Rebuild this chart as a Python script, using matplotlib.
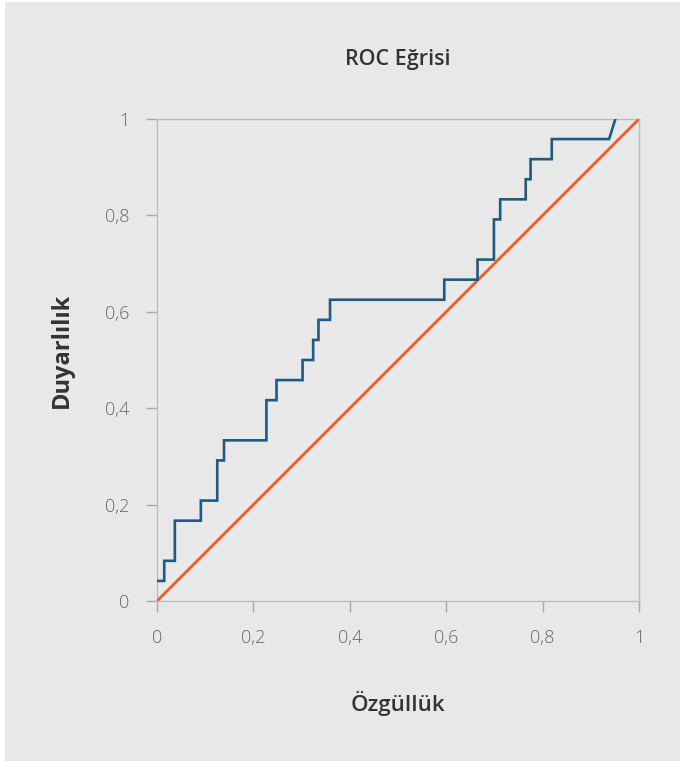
import numpy as np
import matplotlib
matplotlib.use("Agg")
import matplotlib.pyplot as plt
from matplotlib.patches import Rectangle

# ROC step data (x = 1 - specificity, y = sensitivity)
fpr_steps = [0.0, 0.015, 0.037, 0.091, 0.125, 0.139, 0.227, 0.248, 0.302, 0.324,
             0.335, 0.359, 0.596, 0.665, 0.699, 0.712, 0.765, 0.775, 0.819, 0.938]
tpr_counts = [1, 2, 4, 5, 7, 8, 10, 11, 12, 13,
              14, 15, 16, 17, 19, 20, 21, 22, 23, 23]
n_pos = 24
end_point = (0.951, 1.0)
diag_x = [0, 1]
diag_y = [0, 1]

xticks = [0, 0.2, 0.4, 0.6, 0.8, 1]
tick_labels = ["0", "0,2", "0,4", "0,6", "0,8", "1"]

title = "ROC Eğrisi"
xlabel = "Özgüllük"
ylabel = "Duyarlılık"

W, H = 680, 761
fig = plt.figure(figsize=(W / 100, H / 100), dpi=100, facecolor="white")
fig.patches.append(Rectangle((5 / W, 0), 1 - 5 / W, 1 - 2 / H, transform=fig.transFigure,
                             facecolor="#e8e8e8", edgecolor="none", zorder=-10))

ax = fig.add_axes([157 / W, 1 - 601 / H, (639 - 157) / W, (601 - 119) / H])
ax.set_facecolor("#e8e8e8")

tpr = np.array(tpr_counts) / n_pos
fx = np.array(fpr_steps)
# build staircase vertices
vx, vy = [fx[0]], [tpr[0]]
for i in range(1, len(fx)):
    vx += [fx[i], fx[i]]
    vy += [tpr[i - 1], tpr[i]]
vx.append(end_point[0])
vy.append(end_point[1])

ax.plot(diag_x, diag_y, color="#f05a28", lw=2.0, solid_capstyle="butt", zorder=3)
ax.plot(vx, vy, color="#1f5a80", lw=1.9, solid_joinstyle="miter", zorder=4)

ax.set_xlim(0, 1)
ax.set_ylim(0, 1)
ax.set_xticks(xticks)
ax.set_xticklabels(tick_labels)
ax.set_yticks(xticks)
ax.set_yticklabels(tick_labels)

for s in ax.spines.values():
    s.set_color("#bdbdbd")
    s.set_linewidth(1.0)

ax.tick_params(axis="both", direction="out", length=8, width=1.0, color="#a8a8a8",
               labelcolor="#666666", labelsize=13, pad=12)
for lab in ax.get_xticklabels() + ax.get_yticklabels():
    lab.set_family("Open Sans")
    lab.set_fontweight("light")

fig.text((157 + 639) / 2 / W, 1 - 60 / H, title, ha="center", va="center",
         fontsize=15.5, family="Open Sans", fontweight="semibold", color="#333333")
fig.text((157 + 639) / 2 / W, 1 - 703 / H, xlabel, ha="center", va="center",
         fontsize=16, family="Open Sans", fontweight="semibold", color="#333333")
fig.text(62 / W, 1 - 350 / H, ylabel, ha="center", va="center", rotation=90,
         fontsize=17, family="Open Sans", fontweight="bold", color="#333333")

fig.savefig("out.png", dpi=100, facecolor=fig.get_facecolor())
